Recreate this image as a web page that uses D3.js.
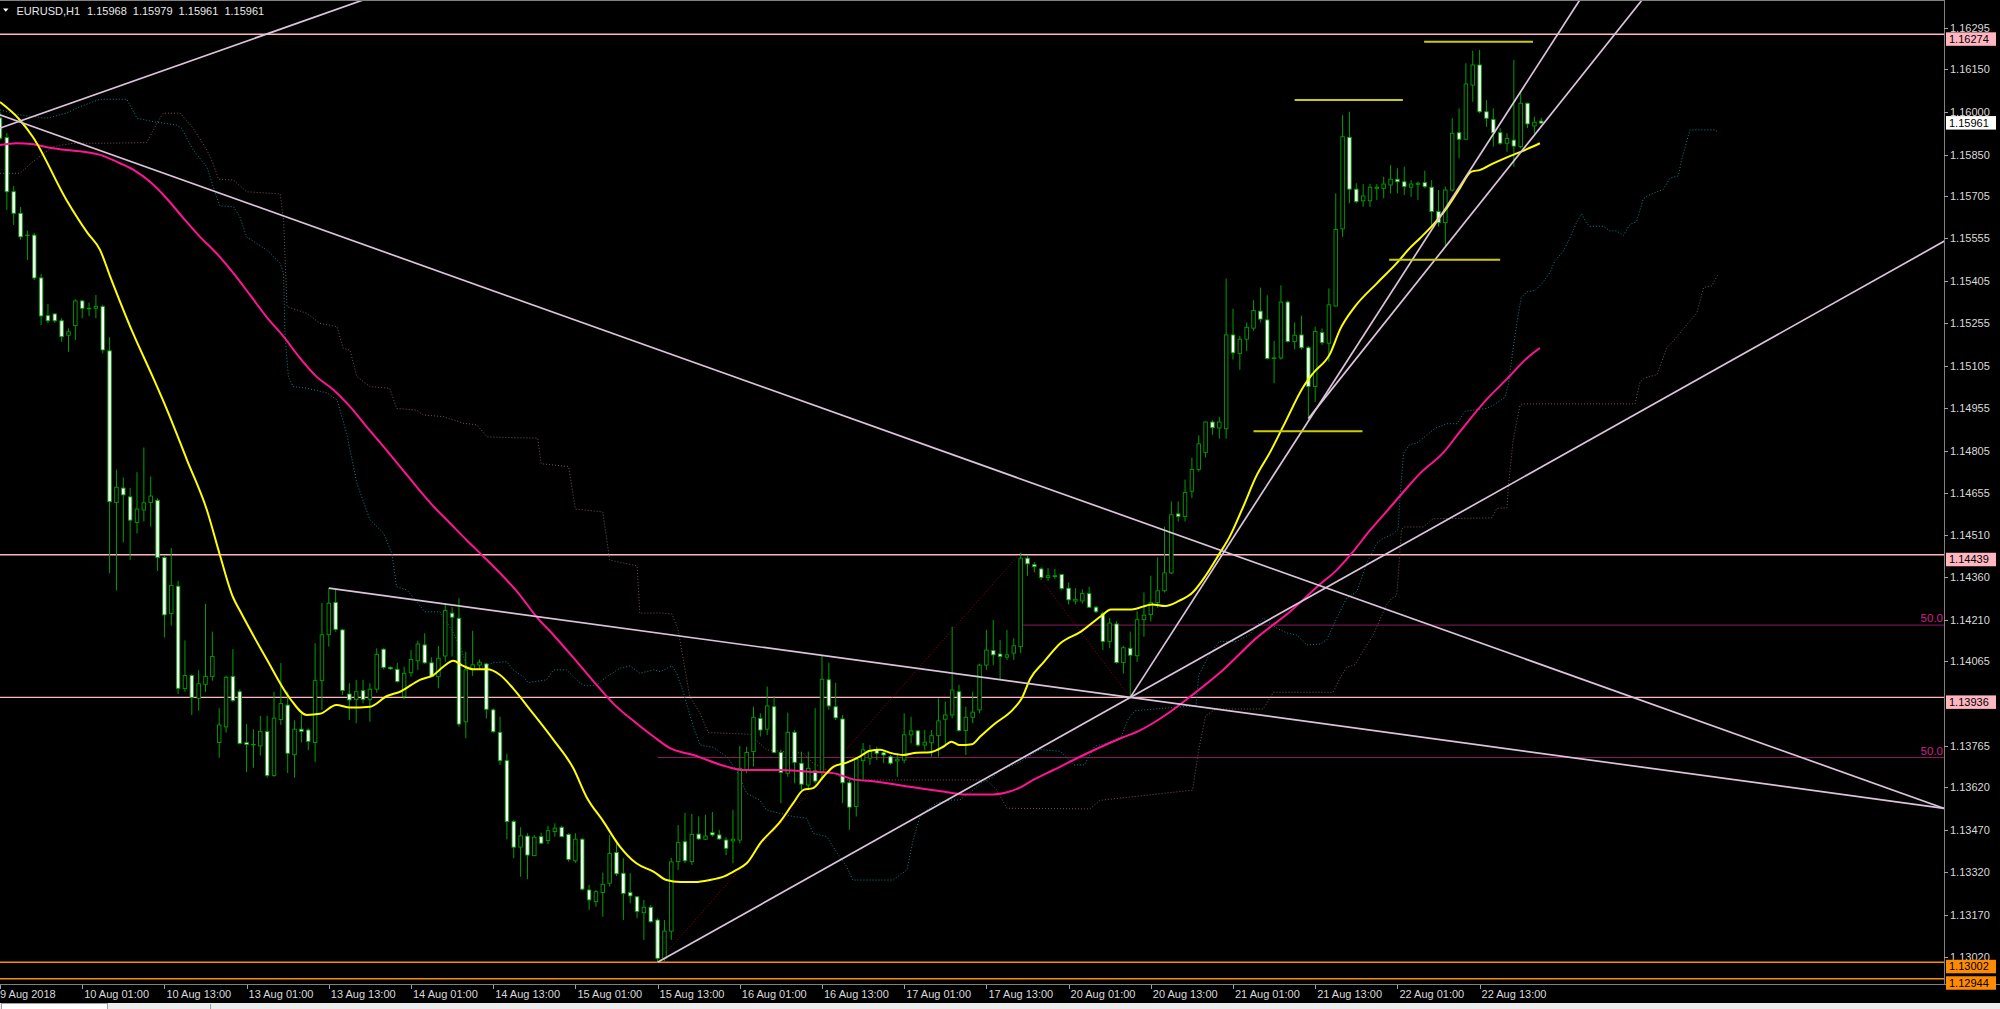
<!DOCTYPE html>
<html><head><meta charset="utf-8">
<script src="https://cdn.jsdelivr.net/npm/d3@7"></script>
<style>html,body{margin:0;padding:0;background:#000;overflow:hidden}svg{display:block}</style>
</head><body><svg id="chart" width="2000" height="1009"></svg>
<script>
// ---------- DATA (EURUSD H1, bar 0 = 9 Aug 2018 13:00) ----------
const opens=[1.15979,1.15910,1.15719,1.15643,1.15566,1.15566,1.15415,1.15282,1.15288,1.15264,1.15213,1.15247,1.15334,1.15308,1.15308,1.15314,1.15158,1.14623,1.14674,1.14643,1.14553,1.14597,1.14623,1.14631,1.14429,1.14232,1.14328,1.13967,1.14013,1.13933,1.13982,1.14010,1.13777,1.13832,1.14010,1.13956,1.13777,1.13770,1.13765,1.13816,1.13661,1.13858,1.13909,1.13734,1.13824,1.13821,1.13777,1.13995,1.14157,1.14271,1.14174,1.13948,1.13929,1.13960,1.13929,1.13965,1.14106,1.14042,1.14035,1.13939,1.14023,1.14065,1.14121,1.14058,1.14009,1.14082,1.14233,1.14215,1.13850,1.14035,1.14050,1.14054,1.13892,1.13813,1.13713,1.13498,1.13408,1.13447,1.13378,1.13445,1.13431,1.13463,1.13478,1.13453,1.13360,1.13436,1.13257,1.13216,1.13248,1.13281,1.13389,1.13316,1.13248,1.13233,1.13177,1.13196,1.13151,1.13016,1.13112,1.13357,1.13427,1.13357,1.13454,1.13436,1.13459,1.13451,1.13433,1.13430,1.13433,1.13680,1.13745,1.13862,1.13824,1.13903,1.13742,1.13669,1.13813,1.13704,1.13627,1.13677,1.13674,1.13998,1.13903,1.13860,1.13635,1.13551,1.13713,1.13722,1.13751,1.13741,1.13727,1.13712,1.13715,1.13804,1.13818,1.13768,1.13776,1.13801,1.13859,1.13874,1.13956,1.13819,1.13866,1.13892,1.14050,1.14101,1.14089,1.14078,1.14092,1.14115,1.14427,1.14404,1.14389,1.14359,1.14362,1.14369,1.14321,1.14276,1.14276,1.14302,1.14254,1.14231,1.14133,1.14195,1.14059,1.14109,1.14083,1.14210,1.14228,1.14270,1.14312,1.14375,1.14583,1.14574,1.14663,1.14740,1.14800,1.14907,1.14886,1.14883,1.15214,1.15149,1.15199,1.15238,1.15298,1.15267,1.15131,1.15133,1.15330,1.15191,1.15214,1.15169,1.15032,1.15222,1.15185,1.15316,1.15588,1.15911,1.15728,1.15687,1.15687,1.15731,1.15731,1.15743,1.15763,1.15754,1.15735,1.15745,1.15751,1.15735,1.15649,1.15610,1.15725,1.15927,1.15904,1.16095,1.16166,1.16001,1.15974,1.15927,1.15890,1.15901,1.15878,1.16031,1.15951,1.15968];
const highs=[1.16000,1.15926,1.15739,1.15665,1.15582,1.15574,1.15429,1.15323,1.15291,1.15274,1.15237,1.15340,1.15337,1.15328,1.15355,1.15320,1.15206,1.14739,1.14711,1.14674,1.14730,1.14817,1.14715,1.14638,1.14437,1.14463,1.14347,1.14137,1.14018,1.14032,1.14266,1.14168,1.13898,1.14013,1.14106,1.13964,1.13843,1.13824,1.13871,1.13871,1.13956,1.14057,1.13956,1.13855,1.13889,1.13827,1.14127,1.14269,1.14321,1.14315,1.14176,1.13986,1.13998,1.13998,1.13986,1.14109,1.14109,1.14044,1.14058,1.14044,1.14103,1.14136,1.14162,1.14077,1.14117,1.14268,1.14254,1.14286,1.14097,1.14171,1.14070,1.14058,1.13898,1.13868,1.13737,1.13504,1.13478,1.13457,1.13451,1.13459,1.13483,1.13492,1.13483,1.13457,1.13457,1.13440,1.13275,1.13257,1.13318,1.13451,1.13422,1.13369,1.13316,1.13236,1.13222,1.13204,1.13157,1.13151,1.13370,1.13486,1.13529,1.13525,1.13516,1.13522,1.13532,1.13469,1.13443,1.13539,1.13765,1.13762,1.13903,1.13880,1.13974,1.13941,1.13751,1.13882,1.13821,1.13745,1.13745,1.13898,1.14082,1.14058,1.13988,1.13874,1.13645,1.13721,1.13775,1.13768,1.13762,1.13751,1.13733,1.13739,1.13880,1.13868,1.13821,1.13821,1.13821,1.13933,1.13921,1.14185,1.13980,1.13903,1.13956,1.14055,1.14174,1.14209,1.14139,1.14174,1.14145,1.14446,1.14436,1.14413,1.14395,1.14392,1.14389,1.14371,1.14341,1.14321,1.14317,1.14326,1.14258,1.14238,1.14216,1.14204,1.14118,1.14168,1.14240,1.14306,1.14365,1.14430,1.14538,1.14627,1.14627,1.14704,1.14782,1.14860,1.14909,1.14913,1.14925,1.15413,1.15306,1.15211,1.15258,1.15336,1.15381,1.15354,1.15193,1.15389,1.15336,1.15258,1.15282,1.15175,1.15243,1.15237,1.15378,1.15713,1.15989,1.16001,1.15749,1.15746,1.15746,1.15746,1.15772,1.15813,1.15802,1.15807,1.15760,1.15754,1.15793,1.15760,1.15725,1.15737,1.15978,1.16013,1.16172,1.16216,1.16219,1.16042,1.16013,1.15943,1.15925,1.16184,1.16068,1.16033,1.15984,1.15979];
const lows=[1.15901,1.15655,1.15602,1.15549,1.15478,1.15408,1.15249,1.15256,1.15257,1.15190,1.15155,1.15196,1.15273,1.15281,1.15273,1.15149,1.14374,1.14313,1.14483,1.14421,1.14514,1.14556,1.14538,1.14382,1.14147,1.14189,1.13948,1.13956,1.13874,1.13889,1.13956,1.13995,1.13723,1.13812,1.13920,1.13770,1.13672,1.13688,1.13731,1.13653,1.13656,1.13839,1.13669,1.13653,1.13777,1.13750,1.13708,1.13892,1.14115,1.14168,1.13945,1.13856,1.13845,1.13915,1.13850,1.13953,1.14035,1.14033,1.13988,1.13930,1.14009,1.14033,1.14054,1.14007,1.13968,1.14062,1.14080,1.13833,1.13792,1.14012,1.14035,1.13862,1.13810,1.13698,1.13436,1.13369,1.13304,1.13295,1.13377,1.13419,1.13419,1.13445,1.13443,1.13357,1.13353,1.13255,1.13187,1.13198,1.13163,1.13269,1.13306,1.13151,1.13210,1.13157,1.13081,1.13142,1.13002,1.13007,1.13081,1.13328,1.13352,1.13345,1.13433,1.13433,1.13445,1.13433,1.13380,1.13351,1.13422,1.13669,1.13692,1.13798,1.13804,1.13739,1.13563,1.13656,1.13633,1.13610,1.13610,1.13633,1.13645,1.13892,1.13856,1.13563,1.13469,1.13516,1.13645,1.13698,1.13715,1.13704,1.13698,1.13656,1.13704,1.13774,1.13762,1.13751,1.13727,1.13727,1.13768,1.13862,1.13815,1.13733,1.13845,1.13880,1.14033,1.14050,1.13998,1.14068,1.14068,1.14092,1.14365,1.14377,1.14350,1.14347,1.14354,1.14314,1.14264,1.14264,1.14266,1.14252,1.14234,1.14103,1.14109,1.14055,1.14020,1.13936,1.14061,1.14150,1.14204,1.14252,1.14306,1.14371,1.14556,1.14556,1.14639,1.14732,1.14782,1.14862,1.14848,1.14848,1.15127,1.15091,1.15157,1.15229,1.15258,1.15127,1.15044,1.15127,1.15187,1.15163,1.15163,1.14919,1.14978,1.15179,1.15120,1.15314,1.15560,1.15678,1.15678,1.15666,1.15666,1.15690,1.15696,1.15713,1.15713,1.15707,1.15701,1.15690,1.15731,1.15596,1.15596,1.15525,1.15719,1.15837,1.15901,1.16036,1.15996,1.15948,1.15878,1.15884,1.15860,1.15807,1.15872,1.15943,1.15925,1.15961];
const closes=[1.15908,1.15719,1.15643,1.15560,1.15565,1.15415,1.15281,1.15264,1.15264,1.15208,1.15225,1.15334,1.15308,1.15306,1.15315,1.15161,1.14626,1.14677,1.14650,1.14561,1.14600,1.14622,1.14646,1.14429,1.14227,1.14331,1.13968,1.14013,1.13936,1.13984,1.14010,1.14080,1.13839,1.14007,1.13925,1.13774,1.13770,1.13769,1.13816,1.13661,1.13863,1.13914,1.13739,1.13824,1.13816,1.13781,1.13995,1.14157,1.14268,1.14176,1.13960,1.13927,1.13956,1.13929,1.13965,1.14088,1.14042,1.14037,1.13992,1.14021,1.14070,1.14124,1.14058,1.14009,1.14074,1.14242,1.14219,1.13842,1.14033,1.14051,1.14060,1.13894,1.13815,1.13713,1.13498,1.13408,1.13448,1.13380,1.13443,1.13422,1.13466,1.13475,1.13445,1.13365,1.13436,1.13260,1.13222,1.13251,1.13277,1.13386,1.13314,1.13245,1.13236,1.13181,1.13196,1.13145,1.13016,1.13112,1.13356,1.13424,1.13360,1.13453,1.13437,1.13447,1.13451,1.13437,1.13404,1.13436,1.13686,1.13742,1.13866,1.13821,1.13906,1.13742,1.13671,1.13813,1.13707,1.13630,1.13686,1.13641,1.14000,1.13906,1.13864,1.13635,1.13549,1.13718,1.13751,1.13745,1.13739,1.13733,1.13704,1.13718,1.13804,1.13818,1.13768,1.13778,1.13801,1.13853,1.13874,1.13962,1.13819,1.13866,1.13884,1.14050,1.14103,1.14086,1.14080,1.14086,1.14118,1.14427,1.14407,1.14397,1.14359,1.14365,1.14365,1.14320,1.14280,1.14282,1.14302,1.14254,1.14238,1.14133,1.14198,1.14059,1.14111,1.14085,1.14210,1.14226,1.14270,1.14312,1.14375,1.14580,1.14574,1.14659,1.14740,1.14830,1.14907,1.14887,1.14907,1.15214,1.15151,1.15199,1.15241,1.15300,1.15270,1.15131,1.15133,1.15330,1.15191,1.15213,1.15169,1.15032,1.15226,1.15187,1.15320,1.15586,1.15913,1.15728,1.15684,1.15704,1.15735,1.15735,1.15746,1.15763,1.15754,1.15737,1.15746,1.15749,1.15737,1.15649,1.15610,1.15725,1.15925,1.15904,1.16099,1.16166,1.16001,1.15978,1.15927,1.15890,1.15907,1.15880,1.16031,1.15958,1.15964,1.15961];

const timeLabelBars=[0,12,24,36,48,60,72,84,96,108,120,132,144,156,168,180,192,204,216];
const timeLabels=["9 Aug 2018","10 Aug 01:00","10 Aug 13:00","13 Aug 01:00","13 Aug 13:00","14 Aug 01:00","14 Aug 13:00","15 Aug 01:00","15 Aug 13:00","16 Aug 01:00","16 Aug 13:00","17 Aug 01:00","17 Aug 13:00","20 Aug 01:00","20 Aug 13:00","21 Aug 01:00","21 Aug 13:00","22 Aug 01:00","22 Aug 13:00"];
const priceTicks=[1.16295,1.16150,1.16000,1.15850,1.15705,1.15555,1.15405,1.15255,1.15105,1.14955,1.14805,1.14655,1.14510,1.14360,1.14210,1.14065,1.13765,1.13620,1.13470,1.13320,1.13170,1.13020];
const pinkLevels=[1.16274,1.14439,1.13936];
const orangeLevels=[1.13002,1.12944];
const lastPrice=1.15961;
const headerValues=["1.15968","1.15979","1.15961","1.15961"];

// moving averages: [bar, price]
const maYellow=[[0,1.16035],[2.9,1.15972],[4.8,1.15912],[9.7,1.15690],[12.8,1.15573],[14.6,1.15514],[16.1,1.15419],[19.4,1.15221],[22.3,1.15066],[24.4,1.14949],[27.3,1.14773],[30.2,1.14597],[32.1,1.14438],[34.0,1.14290],[35.0,1.14243],[38.9,1.14072],[42.3,1.13933],[44.8,1.13874],[46.7,1.13878],[49.1,1.13909],[51.1,1.13900],[54.0,1.13903],[56.5,1.13941],[58.4,1.13956],[61.3,1.13998],[63.3,1.14015],[64.7,1.14044],[66.2,1.14065],[67.6,1.14047],[69.1,1.14035],[71.1,1.14035],[73.0,1.14015],[74.9,1.13968],[77.4,1.13892],[80.8,1.13786],[83.7,1.13686],[85.6,1.13586],[88.1,1.13498],[90.5,1.13410],[92.9,1.13351],[95.4,1.13322],[97.3,1.13292],[99.3,1.13285],[101.5,1.13285],[103.6,1.13292],[105.8,1.13306],[107.5,1.13328],[109.0,1.13351],[111.0,1.13422],[113.9,1.13498],[115.8,1.13563],[117.3,1.13610],[118.7,1.13616],[120.2,1.13656],[121.7,1.13692],[123.6,1.13706],[125.5,1.13727],[127.0,1.13748],[128.5,1.13751],[129.9,1.13741],[131.9,1.13733],[133.8,1.13741],[135.8,1.13743],[137.7,1.13762],[138.9,1.13780],[140.1,1.13768],[141.9,1.13771],[143.1,1.13798],[145.0,1.13839],[147.9,1.13894],[149.1,1.13930],[150.4,1.14002],[152.4,1.14061],[154.8,1.14127],[157.8,1.14168],[160.7,1.14222],[162.2,1.14246],[165.2,1.14246],[168.2,1.14264],[170.1,1.14258],[172.1,1.14276],[174.1,1.14306],[176.0,1.14365],[178.0,1.14442],[179.5,1.14502],[181.5,1.14609],[183.4,1.14716],[185.4,1.14800],[187.4,1.14895],[190.3,1.15032],[191.7,1.15079],[194.2,1.15149],[195.6,1.15232],[197.8,1.15314],[201.0,1.15396],[203.9,1.15467],[205.8,1.15520],[207.3,1.15555],[209.2,1.15602],[211.2,1.15661],[213.1,1.15731],[214.8,1.15790],[216.1,1.15796],[218.0,1.15819],[220.9,1.15849],[222.9,1.15869],[224.8,1.15890]];
const maPink=[[0,1.15884],[2.4,1.15890],[4.9,1.15886],[7.3,1.15874],[9.7,1.15866],[12.2,1.15860],[14.6,1.15849],[17.0,1.15825],[19.5,1.15796],[21.9,1.15754],[24.3,1.15696],[26.8,1.15625],[29.2,1.15560],[31.6,1.15502],[34.1,1.15431],[36.5,1.15355],[38.9,1.15278],[41.4,1.15208],[43.8,1.15132],[46.2,1.15067],[48.7,1.15020],[51.1,1.14961],[53.5,1.14891],[56.0,1.14820],[58.4,1.14750],[60.8,1.14679],[63.3,1.14609],[65.7,1.14550],[68.1,1.14491],[70.6,1.14432],[73.0,1.14374],[75.9,1.14297],[78.3,1.14221],[80.8,1.14156],[84.2,1.14062],[87.1,1.13980],[89.5,1.13915],[92.9,1.13845],[95.4,1.13798],[97.8,1.13757],[101.2,1.13733],[106.1,1.13692],[108.5,1.13680],[113.4,1.13680],[118.2,1.13674],[121.6,1.13669],[124.6,1.13647],[128.0,1.13639],[132.8,1.13621],[137.7,1.13604],[141.1,1.13594],[145.0,1.13594],[147.4,1.13604],[148.9,1.13618],[150.4,1.13639],[153.8,1.13680],[158.8,1.13740],[163.7,1.13793],[166.2,1.13817],[170.1,1.13873],[173.6,1.13936],[178.5,1.14032],[183.4,1.14145],[188.4,1.14240],[192.7,1.14335],[195.1,1.14384],[197.5,1.14449],[199.9,1.14522],[202.4,1.14591],[204.9,1.14661],[207.3,1.14726],[210.7,1.14799],[213.1,1.14872],[217.0,1.14986],[220.0,1.15059],[222.9,1.15132],[224.8,1.15168]];

// Ichimoku spans (dotted): [bar, price]
const spanTeal=[[0,1.16007],[2.9,1.15990],[6.8,1.15978],[9.7,1.15996],[11.7,1.16019],[14.6,1.16045],[18.5,1.16045],[20.0,1.15978],[22.4,1.15966],[25.8,1.15954],[26.5,1.15943],[28.2,1.15866],[30.2,1.15807],[31.6,1.15701],[32.1,1.15669],[34.1,1.15666],[35.0,1.15631],[36.0,1.15560],[38.9,1.15514],[40.9,1.15467],[41.4,1.15431],[41.6,1.15220],[42.1,1.15067],[42.8,1.15032],[44.8,1.15026],[47.7,1.15010],[49.2,1.14985],[50.6,1.14867],[52.1,1.14691],[54.0,1.14562],[56.0,1.14515],[57.2,1.14444],[57.9,1.14326],[59.4,1.14315],[60.8,1.14274],[62.0,1.14238],[64.2,1.14238],[65.2,1.14203],[66.2,1.14162],[67.4,1.14103],[68.1,1.14044],[69.6,1.14035],[72.0,1.14058],[74.0,1.14062],[74.9,1.14033],[76.4,1.14009],[77.1,1.13988],[79.8,1.13998],[80.8,1.14033],[82.7,1.14033],[84.7,1.13986],[85.6,1.13976],[87.1,1.13980],[88.6,1.14009],[90.5,1.14039],[92.0,1.14047],[93.4,1.14021],[95.4,1.14033],[96.4,1.14027],[98.1,1.14047],[98.8,1.14021],[99.8,1.13950],[101.2,1.13833],[102.2,1.13768],[104.1,1.13760],[106.1,1.13727],[107.5,1.13680],[109.0,1.13598],[110.9,1.13574],[111.9,1.13539],[113.9,1.13527],[115.8,1.13516],[117.8,1.13510],[118.7,1.13457],[120.7,1.13445],[121.6,1.13410],[122.6,1.13374],[123.6,1.13339],[124.5,1.13292],[130.4,1.13292],[132.4,1.13328],[133.3,1.13433],[134.3,1.13516],[135.3,1.13539],[136.7,1.13563],[138.7,1.13574],[140.1,1.13574],[142.1,1.13610],[143.1,1.13633],[145.0,1.13656],[146.0,1.13680],[147.4,1.13692],[148.9,1.13708],[151.8,1.13752],[154.8,1.13746],[156.8,1.13698],[158.3,1.13698],[159.8,1.13764],[161.7,1.13775],[163.7,1.13799],[164.7,1.13859],[165.7,1.13889],[168.6,1.13895],[171.6,1.13901],[174.6,1.13907],[175.0,1.14014],[176.5,1.14085],[178.0,1.14133],[180.5,1.14133],[182.4,1.14157],[184.4,1.14216],[186.4,1.14180],[187.9,1.14163],[189.3,1.14156],[190.8,1.14121],[192.7,1.14124],[193.7,1.14140],[195.1,1.14213],[196.6,1.14286],[198.1,1.14310],[199.5,1.14408],[201.0,1.14480],[201.9,1.14496],[203.4,1.14513],[204.1,1.14529],[204.4,1.14650],[204.9,1.14796],[205.8,1.14828],[206.8,1.14832],[208.3,1.14861],[209.5,1.14885],[211.2,1.14901],[212.7,1.14901],[213.9,1.14945],[217.0,1.14955],[218.0,1.14966],[219.7,1.14994],[220.2,1.15039],[220.9,1.15168],[221.6,1.15282],[222.1,1.15346],[222.9,1.15366],[224.1,1.15371],[225.1,1.15395],[226.3,1.15435],[227.0,1.15476],[228.2,1.15508],[229.2,1.15557],[230.2,1.15613],[230.9,1.15641],[231.6,1.15609],[232.1,1.15597],[234.1,1.15597],[235.0,1.15581],[236.0,1.15581],[237.0,1.15565],[238.0,1.15605],[238.9,1.15613],[239.9,1.15694],[240.6,1.15706],[242.8,1.15727],[243.8,1.15767],[245.0,1.15775],[245.5,1.15832],[246.7,1.15937],[250.4,1.15937],[250.8,1.15929]];
const spanBrown=[[0,1.15784],[2.9,1.15784],[4.8,1.15825],[7.7,1.15878],[10.7,1.15890],[14.6,1.15890],[21.4,1.15892],[22.9,1.15960],[23.8,1.15996],[26.3,1.15996],[28.2,1.15943],[30.2,1.15866],[31.1,1.15819],[31.9,1.15763],[34.1,1.15760],[36.0,1.15719],[40.9,1.15711],[41.4,1.15619],[41.9,1.15314],[44.8,1.15290],[46.7,1.15255],[49.2,1.15243],[50.1,1.15167],[51.1,1.15161],[52.1,1.15067],[54.0,1.15032],[56.9,1.15026],[57.9,1.14955],[60.8,1.14949],[61.8,1.14932],[64.7,1.14926],[67.6,1.14903],[69.6,1.14897],[71.1,1.14855],[73.0,1.14853],[78.5,1.14850],[79.0,1.14760],[83.0,1.14750],[84.0,1.14600],[88.0,1.14590],[89.0,1.14420],[93.0,1.14400],[93.4,1.14233],[96.4,1.14234],[98.1,1.14230],[99.0,1.14174],[100.7,1.13939],[102.2,1.13880],[103.4,1.13812],[109.5,1.13806],[110.9,1.13774],[111.9,1.13751],[117.3,1.13739],[118.7,1.13704],[123.6,1.13645],[144.0,1.13645],[145.5,1.13610],[147.0,1.13545],[159.1,1.13543],[160.6,1.13573],[174.1,1.13609],[175.0,1.13752],[176.0,1.13871],[177.5,1.13895],[184.4,1.13895],[185.9,1.13954],[194.6,1.13954],[195.6,1.14003],[196.6,1.14043],[197.8,1.14051],[199.0,1.14100],[200.5,1.14157],[201.5,1.14213],[202.4,1.14262],[203.2,1.14286],[203.9,1.14294],[204.1,1.14359],[204.6,1.14529],[205.1,1.14537],[207.8,1.14537],[209.2,1.14566],[217.8,1.14569],[218.5,1.14602],[220.0,1.14605],[220.2,1.14682],[220.9,1.14844],[221.9,1.14966],[222.6,1.14971],[238.7,1.14971],[239.4,1.15047],[240.1,1.15063],[241.9,1.15074],[243.3,1.15168],[244.3,1.15193],[246.2,1.15249],[247.7,1.15290],[248.7,1.15382],[249.9,1.15387],[250.8,1.15427]];

// trend lines: anchor A (bar, price), anchor B (bar, price), extend left
const trendA=[[0,1.15990],[0,1.15943],[48,1.14321],[96,1.13002],[165,1.13936],[191,1.14919]];
const trendB=[[178.4,1.14453],[52.3,1.16389],[165,1.13936],[165,1.13936],[192.7,1.14974],[211,1.15525]];
const trendExtLeft=[true,true,false,false,false,false];

// short horizontal segments: [bar from, bar to, price]
const yellowSegs=[[183.0,198.9,1.14874],[189.0,204.8,1.16042],[202.8,219.0,1.15479],[207.9,223.8,1.16248]];

// fibonacci retracements: [bar1, price1, bar2, price2]
const fibs=[[96,1.13002,149,1.14446],[149,1.14446,165,1.13936]];
const fibLevel=0.5;

// ---------- DRAWING ----------
const W=2000,H=1009, plotR=1944, plotB=983;
const svg=d3.select("#chart");
const font="'Liberation Sans', Arial, sans-serif";
svg.append("rect").attr("width",W).attr("height",H).attr("fill","#000");

const x=d3.scaleLinear().domain([0,280]).range([0,1918]);
const y=d3.scaleLinear().domain([1.12929,1.16395]).range([plotB,0]);

svg.append("defs").append("clipPath").attr("id","plotclip").append("rect")
  .attr("x",0).attr("y",0).attr("width",plotR).attr("height",plotB);
const plot=svg.append("g").attr("clip-path","url(#plotclip)");

// horizontal levels
plot.selectAll(".pl").data(pinkLevels).enter().append("line")
  .attr("x1",0).attr("x2",plotR).attr("y1",d=>y(d)).attr("y2",d=>y(d))
  .attr("stroke","#ffb6c1").attr("stroke-width",1.4);
plot.selectAll(".ol").data(orangeLevels).enter().append("line")
  .attr("x1",0).attr("x2",plotR).attr("y1",d=>y(d)).attr("y2",d=>y(d))
  .attr("stroke","#ff8c00").attr("stroke-width",1.5);

// fibo
fibs.forEach(f=>{
  const lv=f[1]+(f[3]-f[1])*fibLevel;
  plot.append("line").attr("x1",x(Math.min(f[0],f[2]))).attr("x2",plotR)
    .attr("y1",y(lv)).attr("y2",y(lv)).attr("stroke","#8b1a5c").attr("stroke-width",1);
  plot.append("line").attr("x1",x(f[0])).attr("y1",y(f[1])).attr("x2",x(f[2])).attr("y2",y(f[3]))
    .attr("stroke","#a00000").attr("stroke-width",1).attr("stroke-dasharray","1,2");
  svg.append("text").attr("x",plotR-1).attr("y",y(lv)-3).attr("text-anchor","end")
    .attr("font-family",font).attr("font-size",11.5).attr("fill","#d0208a").text((fibLevel*100).toFixed(1));
});

// ichimoku spans
const lin=d3.line().x(d=>x(d[0])).y(d=>y(d[1]));
plot.append("path").attr("d",lin(spanBrown)).attr("fill","none").attr("stroke","#7a5656")
  .attr("stroke-width",1).attr("stroke-dasharray","1,2");
plot.append("path").attr("d",lin(spanTeal)).attr("fill","none").attr("stroke","#0a8a8a")
  .attr("stroke-width",1).attr("stroke-dasharray","1,2");

// candles
const candles=opens.map((o,i)=>({i,o,h:highs[i],l:lows[i],c:closes[i]}));
const green="#00a000";
const cg=plot.append("g");
cg.selectAll(".wick").data(candles).enter().append("line")
  .attr("x1",d=>x(d.i)).attr("x2",d=>x(d.i)).attr("y1",d=>y(d.h)).attr("y2",d=>y(d.l))
  .attr("stroke",green).attr("stroke-width",1);
cg.selectAll(".body").data(candles).enter().append("rect")
  .attr("x",d=>x(d.i)-1.75).attr("width",3.5)
  .attr("y",d=>y(Math.max(d.o,d.c)))
  .attr("height",d=>Math.max(0.01,Math.abs(y(d.o)-y(d.c))))
  .attr("fill",d=>d.c>=d.o?"#000":"#fff").attr("stroke",green).attr("stroke-width",0.9);

// moving averages
const smooth=d3.line().x(d=>x(d[0])).y(d=>y(d[1])).curve(d3.curveMonotoneX);
plot.append("path").attr("d",smooth(maPink)).attr("fill","none").attr("stroke","#ff1493").attr("stroke-width",2);
plot.append("path").attr("d",smooth(maYellow)).attr("fill","none").attr("stroke","#ffff00").attr("stroke-width",2);

// trend lines
trendA.forEach((a,k)=>{
  const b=trendB[k];
  const x1=x(a[0]),y1=y(a[1]),x2=x(b[0]),y2=y(b[1]);
  const dx=x2-x1, dy=y2-y1;
  const t1=trendExtLeft[k]?-20:0, t2=20;
  plot.append("line").attr("x1",x1+dx*t1).attr("y1",y1+dy*t1).attr("x2",x1+dx*t2).attr("y2",y1+dy*t2)
    .attr("stroke","#dcc3dc").attr("stroke-width",1.7);
});

// short yellow segments
plot.selectAll(".ys").data(yellowSegs).enter().append("line")
  .attr("x1",d=>x(d[0])).attr("x2",d=>x(d[1])).attr("y1",d=>y(d[2])).attr("y2",d=>y(d[2]))
  .attr("stroke","#cccc00").attr("stroke-width",2);

// frame
svg.append("line").attr("x1",0).attr("x2",plotR).attr("y1",0.5).attr("y2",0.5).attr("stroke","#808080");
svg.append("line").attr("x1",plotR+0.5).attr("x2",plotR+0.5).attr("y1",0).attr("y2",plotB+1).attr("stroke","#808080");
svg.append("line").attr("x1",0).attr("x2",W).attr("y1",plotB+1.5).attr("y2",plotB+1.5).attr("stroke","#808080");

// price axis
const pa=svg.append("g");
pa.selectAll(".tk").data(priceTicks).enter().append("line")
  .attr("x1",plotR).attr("x2",plotR+4).attr("y1",d=>Math.round(y(d))+0.5).attr("y2",d=>Math.round(y(d))+0.5).attr("stroke","#a0a0a0");
pa.selectAll(".tl").data(priceTicks).enter().append("text")
  .attr("x",plotR+6).attr("y",d=>y(d)+4).attr("font-family",font).attr("font-size",11).attr("fill","#d8d8d8")
  .text(d=>d.toFixed(5));
function box(p,fill,dy){
  const yy=y(p)+dy;
  pa.append("rect").attr("x",plotR+2).attr("y",yy).attr("width",50).attr("height",13.5).attr("fill",fill);
  pa.append("text").attr("x",plotR+5).attr("y",yy+10.5).attr("font-family",font).attr("font-size",11)
    .attr("fill","#000").text(p.toFixed(5));
}
pinkLevels.forEach(p=>box(p,"#ffb6c1",-2));
orangeLevels.forEach(p=>box(p,"#ff8c00",-2.5));
box(lastPrice,"#ffffff",-7);

// time axis
const ta=svg.append("g");
ta.selectAll(".tt").data(timeLabelBars).enter().append("line")
  .attr("x1",d=>Math.round(x(d))+0.5).attr("x2",d=>Math.round(x(d))+0.5).attr("y1",plotB+2).attr("y2",plotB+6).attr("stroke","#a0a0a0");
ta.selectAll(".tx").data(timeLabelBars).enter().append("text")
  .attr("x",(d,i)=>i===0?0:x(d)+2).attr("y",998).attr("font-family",font).attr("font-size",11).attr("fill","#d8d8d8")
  .text((d,i)=>timeLabels[i]);

// bottom tab strip
svg.append("rect").attr("x",0).attr("y",1003).attr("width",W).attr("height",6).attr("fill","#ececec");
svg.append("rect").attr("x",1.5).attr("y",1003.5).attr("width",106).attr("height",6).attr("fill","#fff").attr("stroke","#a0a0a0");
svg.append("line").attr("x1",210.5).attr("x2",210.5).attr("y1",1004).attr("y2",1009).attr("stroke","#a0a0a0");

// header
svg.append("path").attr("d","M3,8.5 L8.5,8.5 L5.75,11.8 Z").attr("fill","#fff");
svg.append("text").attr("x",16.5).attr("y",15).attr("font-family",font).attr("font-size",11).attr("fill","#e8e8e8").text("EURUSD,H1");
headerValues.forEach((v,i)=>svg.append("text").attr("x",87+i*45.8).attr("y",15).attr("font-family",font)
  .attr("font-size",11).attr("fill","#e8e8e8").text(v));
</script></body></html>
